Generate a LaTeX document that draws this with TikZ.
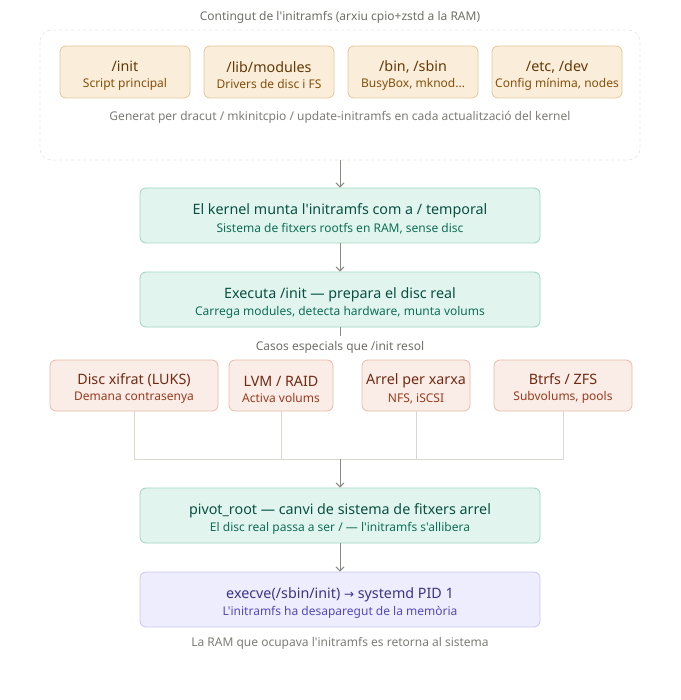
\documentclass[tikz,border=0pt]{standalone}
\usepackage{fontspec}
\setmainfont{Noto Sans}[Ligatures=TeXOff]
\usetikzlibrary{arrows.meta}
\definecolor{capgray}{HTML}{6F6E68}
\definecolor{linegray}{HTML}{8A8984}
\definecolor{wiregray}{HTML}{D9D7D0}
\definecolor{orfill}{HTML}{FAEEDA}
\definecolor{ordraw}{HTML}{E3C79C}
\definecolor{ortext}{HTML}{633806}
\definecolor{orsub}{HTML}{854F0B}
\definecolor{grfill}{HTML}{E1F5EE}
\definecolor{grdraw}{HTML}{9FD6BF}
\definecolor{grtext}{HTML}{085041}
\definecolor{grsub}{HTML}{0F6E56}
\definecolor{rdfill}{HTML}{FAECE7}
\definecolor{rddraw}{HTML}{E8BBA9}
\definecolor{rdtext}{HTML}{712B13}
\definecolor{rdsub}{HTML}{993C1D}
\definecolor{pufill}{HTML}{EEEDFE}
\definecolor{pudraw}{HTML}{C9C5F2}
\definecolor{putext}{HTML}{3C3489}
\definecolor{pusub}{HTML}{534AB7}
\newcommand{\boxtwo}[4]{{\rule{0pt}{17.5pt}\fontsize{14.3}{16}\selectfont\color{#3}#1}\\[4pt]{\fontsize{12}{14}\selectfont\color{#4}#2}}
\tikzset{
  box/.style={draw, rounded corners=6pt, line width=0.8pt, align=center, inner sep=0pt},
  filebox/.style={box, fill=orfill, draw=ordraw, minimum width=130pt, minimum height=52pt},
  stagebox/.style={box, fill=grfill, draw=grdraw, minimum width=400pt, minimum height=55pt},
  casebox/.style={box, fill=rdfill, draw=rddraw, minimum height=51pt},
  endbox/.style={box, fill=pufill, draw=pudraw, minimum width=400pt, minimum height=55pt},
  captxt/.style={font=\fontsize{12}{14}\selectfont, text=capgray},
  flow/.style={draw=linegray, line width=1pt, -{Straight Barb[length=4pt,width=8pt]}},
  wire/.style={draw=wiregray, line width=1pt}
}
\begin{document}
\begin{tikzpicture}[x=1pt, y=-1pt]
\useasboundingbox (0,0) rectangle (680,700);
% contents of the image
\node[captxt] (tcap) at (340,17) {Contingut de l'initramfs (arxiu cpio+zstd a la RAM)};
\draw[draw=wiregray!60, dashed, line width=0.8pt, rounded corners=12pt] (40,30) rectangle (640,160);
\coordinate (ctop) at (340,160);
\node[filebox] (f1) at (125,72) {\boxtwo{/init}{Script principal}{ortext}{orsub}};
\node[filebox] (f2) at (269,72) {\boxtwo{/lib/modules}{Drivers de disc i FS}{ortext}{orsub}};
\node[filebox] (f3) at (413,72) {\boxtwo{/bin, /sbin}{BusyBox, mknod...}{ortext}{orsub}};
\node[filebox] (f4) at (557,72) {\boxtwo{/etc, /dev}{Config mínima, nodes}{ortext}{orsub}};
\node[captxt, text=capgray!90] (gen) at (340,117) {Generat per dracut / mkinitcpio / update-initramfs en cada actualització del kernel};
% boot stages
\node[stagebox] (mnt) at (340,215.5) {\boxtwo{El kernel munta l'initramfs com a / temporal}{Sistema de fitxers rootfs en RAM, sense disc}{grtext}{grsub}};
\node[stagebox] (run) at (340,299.5) {\boxtwo{Executa /init — prepara el disc real}{Carrega modules, detecta hardware, munta volums}{grtext}{grsub}};
\node[captxt] (ccap) at (340,347) {Casos especials que /init resol};
\coordinate (cend) at (340,336);
% special cases
\node[casebox, minimum width=168pt] (c1) at (134,385.5) {\boxtwo{Disc xifrat (LUKS)}{Demana contrasenya}{rdtext}{rdsub}};
\node[casebox, minimum width=104pt] (c2) at (281,385.5) {\boxtwo{LVM / RAID}{Activa volums}{rdtext}{rdsub}};
\node[casebox, minimum width=108pt] (c3) at (416,385.5) {\boxtwo{Arrel per xarxa}{NFS, iSCSI}{rdtext}{rdsub}};
\node[casebox, minimum width=138pt] (c4) at (563,385.5) {\boxtwo{Btrfs / ZFS}{Subvolums, pools}{rdtext}{rdsub}};
\coordinate (join) at (340,459);
\node[stagebox] (piv) at (340,515.5) {\boxtwo{pivot\_root — canvi de sistema de fitxers arrel}{El disc real passa a ser / — l'initramfs s'allibera}{grtext}{grsub}};
\node[endbox] (sysd) at (340,599.5) {\boxtwo{execve(/sbin/init) {\fontspec{DejaVu Sans}\fontsize{12}{14}\selectfont→} systemd PID 1}{L'initramfs ha desaparegut de la memòria}{putext}{pusub}};
\node[captxt, text=capgray!90] (ram) at (340,643) {La RAM que ocupava l'initramfs es retorna al sistema};
\draw[wire] (c1.south) |- (join);
\draw[wire] (c2.south) |- (join);
\draw[wire] (c3.south) |- (join);
\draw[wire] (c4.south) |- (join);
\draw[draw=linegray, line width=1pt] (run) -- (cend);
\path
    (ctop) edge[flow] (mnt)
    (mnt) edge[flow] (run)
    (join) edge[flow] (piv)
    (piv) edge[flow] (sysd);
\end{tikzpicture}
\end{document}
